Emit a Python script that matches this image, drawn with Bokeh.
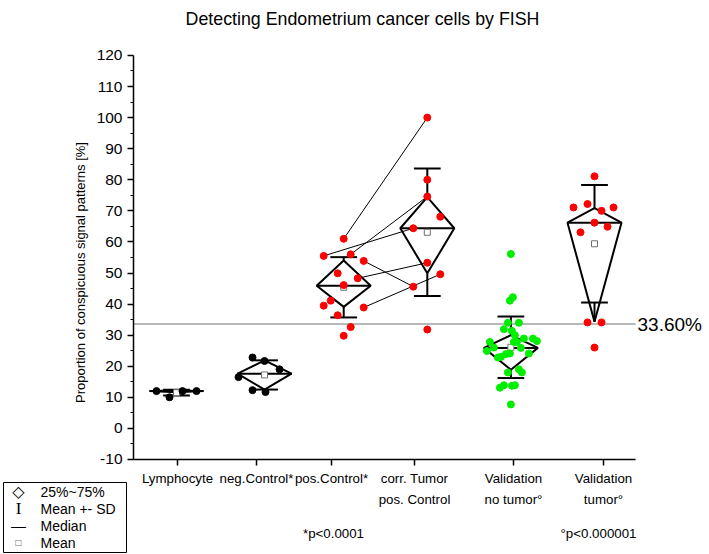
import numpy as np
from bokeh.plotting import figure
from bokeh.models import Range1d, FixedTicker, CustomJSTickFormatter
from bokeh.core.properties import value
from bokeh.embed import file_html
from bokeh.resources import INLINE

# ---------------- data ----------------
categories = ["Lymphocyte", "neg.Control*", "pos.Control*",
              "corr. Tumor\npos. Control", "Validation\nno tumor°", "Validation\ntumor°"]

# summary statistics drawn by the box (diamond) chart
q1 = [11.6, 12.5, 39.1, 49.9, 18.9, 34.3]
q3 = [12.2, 21.9, 54.0, 74.4, 30.0, 70.9]
median = [12.0, 17.6, 45.9, 64.4, 25.9, 66.2]
mean = [11.5, 17.2, 45.4, 63.1, 26.1, 59.4]
sd = [0.9, 4.7, 9.7, 20.5, 9.9, 18.9]

lymphocyte = [12.0, 10.0, 12.0, 12.0]
neg_control = [22.8, 21.7, 19.0, 16.5, 12.3, 11.7]
pos_control = [61.0, 55.5, 56.0, 53.9, 49.9, 48.3, 46.1, 41.1, 39.5, 38.9, 36.4, 32.6, 29.8]
corr_tumor = [100.0, 80.0, 74.6, 68.1, 64.4, 53.3, 49.6, 45.6, 31.8]
val_no_tumor = [56.1, 42.2, 41.1, 34.0, 34.0, 31.9, 31.4, 30.0, 28.9, 28.9, 28.1, 27.8,
                27.8, 27.8, 26.0, 25.9, 24.9, 24.1, 24.1, 23.9, 23.0, 22.8, 19.0, 18.0,
                18.0, 13.9, 13.1, 13.7, 13.9, 7.7]
val_tumor = [81.1, 72.2, 71.1, 71.1, 70.0, 66.2, 64.9, 63.1, 34.1, 34.1, 26.0]

# paired samples: pos.Control index -> corr. Tumor index
pair_pos = [0, 1, 2, 3, 5, 9]
pair_corr = [0, 4, 2, 7, 5, 6]

threshold = 33.6
threshold_label = "33.60%"
y_ticks = list(range(-10, 121, 10))
title = "Detecting Endometrium cancer cells by FISH"
y_title = "Proportion of conspicuous signal patterns [%]"
p_notes = ["*p<0.0001", "°p<0.000001"]
legend_labels = ["25%~75%", "Mean +- SD", "Median", "Mean"]

# ---------------- layout / style ----------------
PX = 83.6  # pixels per category step
jit_lymph = [-20, -7, 6, 20]
jit_neg = [-12, 0, 15, -26, -12, 1]
jit_pos = [0, -20, 7, 20, -6, 14, 0, -13, -20, 20, -6, 7, 0]
jit_corr = [0, 0, 0, 13, -14, 0, 13, -14, 0]
jit_no = [0, 2, -1, -3, 8, -7, 1, 4, 13, 22, 26, 3, 6, -21, -17, 10, -24, 18, -1, -5,
          -10, -13, 8, -3, 11, -7, -11, 1, 4, 0]
jit_tum = [0, -7, -21, 19, 7, 0, 13, -14, -7, 7, 0]
groups = [lymphocyte, neg_control, pos_control, corr_tumor, val_no_tumor, val_tumor]
jitters = [jit_lymph, jit_neg, jit_pos, jit_corr, jit_no, jit_tum]
colors = ["black", "black", "red", "red", "#00ee00", "red"]
xpos = [0, 1.053, 2, 3, 4, 5]
label_px = [177, 256, 331, 414, 513, 603]

FONT = "Liberation Sans"
W, H = 709, 554
Y0 = 427.9   # pixel row of value 0
YS = 3.108   # pixels per unit


def sx(px):
    return (px - 176) / PX


def sy(py):
    return (Y0 - py) / YS


X_AX0, X_AX1 = sx(133), sx(635)   # extent of the plot area

p = figure(width=W, height=H, output_backend="svg", toolbar_location=None,
           x_range=Range1d(sx(0), sx(W)), y_range=Range1d(sy(H), sy(0)),
           min_border=0, min_border_left=0, min_border_right=0,
           min_border_top=0, min_border_bottom=0)
p.outline_line_color = None
p.xgrid.visible = False
p.ygrid.visible = False

# axes (drawn at fixed locations inside the canvas)
p.yaxis.fixed_location = X_AX0
p.yaxis.bounds = (-10, 120)
p.yaxis.ticker = FixedTicker(ticks=y_ticks, minor_ticks=list(range(-5, 120, 10)))
p.yaxis.formatter = CustomJSTickFormatter(code="return String(tick)")
p.yaxis.major_tick_out = 6
p.yaxis.major_tick_in = 0
p.yaxis.minor_tick_out = 3
p.yaxis.minor_tick_in = 0
p.yaxis.major_label_text_font = FONT
p.yaxis.major_label_text_font_size = "15.5px"
p.yaxis.major_label_text_color = "black"
p.yaxis.major_label_standoff = 5

p.xaxis.fixed_location = -10
p.xaxis.bounds = (X_AX0, X_AX1)
p.xaxis.ticker = FixedTicker(ticks=[sx(v) for v in label_px], minor_ticks=[])
p.xaxis.formatter = CustomJSTickFormatter(code="return ''")
p.xaxis.major_tick_out = 6
p.xaxis.major_tick_in = 0
for ax in (p.xaxis, p.yaxis):
    ax.axis_line_width = 1.5
    ax.axis_line_color = "black"
    ax.major_tick_line_width = 1.5
    ax.major_tick_line_color = "black"
    ax.minor_tick_line_color = "black"

# threshold line
p.segment(x0=[X_AX0], y0=[threshold], x1=[X_AX1], y1=[threshold],
          line_color="#a0a0a0", line_width=1.5)

# paired connection lines
p.segment(x0=[xpos[2] + jit_pos[i] / PX for i in pair_pos],
          y0=[pos_control[i] for i in pair_pos],
          x1=[xpos[3] + jit_corr[i] / PX for i in pair_corr],
          y1=[corr_tumor[i] for i in pair_corr],
          line_color="black", line_width=1)

# diamonds
HW = 0.323
CW = 0.16
xs = [[x - HW, x, x + HW, x] for x in xpos]
ys = [[m, h, m, l] for m, h, l in zip(median, q3, q1)]
p.patches(xs, ys, fill_color=None, line_color="black", line_width=2)
p.segment(x0=[x - HW for x in xpos], y0=median, x1=[x + HW for x in xpos], y1=median,
          line_color="black", line_width=2)
sd_hi = [m + s for m, s in zip(mean, sd)]
sd_lo = [m - s for m, s in zip(mean, sd)]
p.segment(x0=xpos, y0=q3, x1=xpos, y1=sd_hi, line_color="black", line_width=2)
p.segment(x0=xpos, y0=q1, x1=xpos, y1=sd_lo, line_color="black", line_width=2)
p.segment(x0=[x - CW for x in xpos], y0=sd_hi, x1=[x + CW for x in xpos], y1=sd_hi,
          line_color="black", line_width=2)
p.segment(x0=[x - CW for x in xpos], y0=sd_lo, x1=[x + CW for x in xpos], y1=sd_lo,
          line_color="black", line_width=2)
p.scatter(xpos, mean, marker="square", size=6, fill_color="white",
          line_color="#707070", line_width=1)

# points
for x, vals, jit, c in zip(xpos, groups, jitters, colors):
    p.scatter([x + j / PX for j in jit], vals, size=7, fill_color=c, line_color=c)


# texts
def txt(pxs, pys, texts, size="13.3px", align="center", baseline="middle",
        font=FONT, color="black", **kw):
    p.text(x=[sx(v) for v in pxs], y=[sy(v) for v in pys], text=texts,
           text_font=value(font), text_font_size=value(size), text_align=align,
           text_baseline=baseline, text_color=color, **kw)


txt([362], [18], [title], size="17.8px")
txt(label_px, [470] * len(categories), categories, baseline="top", text_line_height=1.4)
txt([333, 598], [533, 533], p_notes)
txt([637], [324], [threshold_label], size="19px", align="left")
txt([80], [272], [y_title], size="13px", angle=np.pi / 2)

# legend
p.quad(left=[sx(3)], right=[sx(126)], top=[sy(482)], bottom=[sy(552)],
       fill_color=None, line_color="black", line_width=1)
txt([18], [491], ["◇"], size="16px", font="DejaVu Sans", text_font_style="bold")
txt([18], [508], ["I"], size="17px", font="Liberation Serif")
txt([18], [525], ["—"], size="15px")
txt([18], [542], ["□"], size="8px", font="DejaVu Sans", color="#707070")
txt([40] * 4, [491, 508, 525, 542], legend_labels, size="14px", align="left")

open("out.html", "w").write(file_html(p, INLINE))
